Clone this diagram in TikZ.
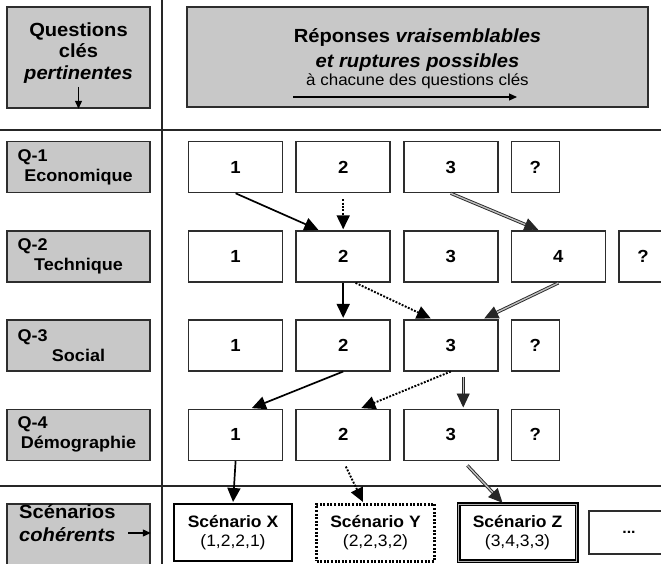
\documentclass[tikz,border=0pt]{standalone}
\usepackage{fontspec}
\setmainfont{Liberation Sans}[FakeStretch=1.06]
\usetikzlibrary{arrows.meta, positioning, calc}
\definecolor{headgray}{RGB}{200, 200, 200}
\definecolor{boxline}{RGB}{45, 45, 45}

\begin{document}
\begin{tikzpicture}[
    x=1pt, y=-1pt,
    node distance=12pt,
    sepline/.style={line width=1.1pt, black!85},
    headbox/.style={draw=boxline, fill=headgray, line width=1.6pt},
    qbox/.style={headbox, minimum width=143pt, minimum height=51pt, text width=122pt, align=center, font=\bfseries\fontsize{17}{20}\selectfont},
    ans/.style={draw=boxline, fill=white, line width=1.6pt, minimum width=94pt, minimum height=51pt, font=\bfseries\fontsize{17.5}{20}\selectfont},
    unk/.style={ans, minimum width=48pt},
    scen/.style={draw=black, fill=white, line width=2.4pt, minimum width=118pt, minimum height=57pt, align=center, font=\fontsize{16.5}{19}\selectfont},
    scendotted/.style={line width=2.6pt, dash pattern=on 2pt off 1.6pt},
    scendouble/.style={line width=1.4pt, double=gray!60, double distance=1.2pt},
    solidarrow/.style={-{Triangle[length=14pt,width=13pt]}, line width=1.7pt, shorten >=1pt},
    dotarrow/.style={-{Triangle[length=14pt,width=13pt]}, line width=1.9pt, dash pattern=on 1.9pt off 1.5pt, shorten >=1pt},
    dblarrow/.style={-{Triangle[length=14pt,width=13pt]}, draw=black!85, double=gray!50, double distance=1.4pt, line width=0.9pt, shorten >=1pt},
    smallarrow/.style={-{Triangle[length=8pt,width=7pt]}, line width=1.1pt}
]
    \path[fill=white, use as bounding box] (0,0) rectangle (661,564);

    % Header
    \node[headbox, minimum width=143pt, minimum height=101pt] (qhead) at (78.5,57.5) {};
    \node[align=center, font=\bfseries\fontsize{19}{21.5}\selectfont] (qheadtxt) at (78.5,53) {Questions\\clés\\\textit{pertinentes}};
    \coordinate (qarrow) at (78.5,87);
    \draw[smallarrow] (qarrow) -- (qhead.south);

    \node[headbox, minimum width=461pt, minimum height=100pt] (rhead) at (417.5,57) {};
    \node[align=center, font=\bfseries\fontsize{19}{25}\selectfont] (rheadtxt) at (417.5,59) {Réponses \textit{vraisemblables}\\\textit{et ruptures possibles}\\[-7pt]{\mdseries\fontsize{16}{18}\selectfont à chacune des questions clés}};
    \coordinate (rarrowa) at (293,97);
    \coordinate (rarrowb) at (517,97);
    \draw[smallarrow] (rarrowa) -- (rarrowb);

    % Separators
    \draw[sepline] (162,0) -- (162,564);
    \draw[sepline] (0,130) -- (661,130);
    \draw[sepline] (0,486) -- (661,486);

    % Key questions
    \node[qbox] (q1) at (78.5,167) {Q-1\hfill\mbox{}\\Economique};
    \node[qbox, below=37pt of q1] (q2) {Q-2\hfill\mbox{}\\Technique};
    \node[qbox, below=36pt of q2] (q3) {Q-3\hfill\mbox{}\\Social};
    \node[qbox, below=37pt of q3] (q4) {Q-4\hfill\mbox{}\\Démographie};

    % Answers
    \node[ans, right=37pt of q1] (a11) {1};
    \node[ans, right=of a11] (a12) {2};
    \node[ans, right=of a12] (a13) {3};
    \node[unk, right=of a13] (a1u) {?};

    \node[ans, right=37pt of q2] (a21) {1};
    \node[ans, right=of a21] (a22) {2};
    \node[ans, right=of a22] (a23) {3};
    \node[ans, right=of a23] (a24) {4};
    \node[unk, right=of a24] (a2u) {?};

    \node[ans, right=37pt of q3] (a31) {1};
    \node[ans, right=of a31] (a32) {2};
    \node[ans, right=of a32] (a33) {3};
    \node[unk, right=of a33] (a3u) {?};

    \node[ans, right=37pt of q4] (a41) {1};
    \node[ans, right=of a41] (a42) {2};
    \node[ans, right=of a42] (a43) {3};
    \node[unk, right=of a43] (a4u) {?};

    % Coherent scenarios
    \node[headbox, minimum width=143pt, minimum height=72pt, anchor=north] (scbox) at (78.5,503) {};
    \node[anchor=north west, align=left, inner sep=0pt, font=\bfseries\fontsize{19}{23}\selectfont] (sctxt) at (19,504) {Scénarios\\\textit{cohérents}};
    \coordinate (scarrow) at (128,533);
    \draw[smallarrow] (scarrow) -- (scarrow -| scbox.east);

    \node[scen, anchor=north] (sx) at (233,503) {\textbf{Scénario X}\\(1,2,2,1)};
    \node[scen, scendotted, right=22pt of sx] (sy) {\textbf{Scénario Y}\\(2,2,3,2)};
    \node[scen, scendouble, right=22pt of sy] (sz) {\textbf{Scénario Z}\\(3,4,3,3)};
    \node[draw=boxline, line width=1.6pt, minimum width=80pt, minimum height=43pt, font=\bfseries\fontsize{15}{18}\selectfont, right=11pt of sz] (sdots) {...};

    % Paths between answers
    \draw[solidarrow] (a11.south) -- ($(a22.north west)!0.25!(a22.north east)$);
    \draw[dotarrow, shorten <=6pt] (a12.south) -- (a22.north);
    \draw[dblarrow] (a13.south) -- ($(a24.north west)!0.3!(a24.north east)$);

    \draw[solidarrow] (a22.south) -- (a32.north);
    \draw[dotarrow] ($(a22.south west)!0.63!(a22.south east)$) -- ($(a33.north west)!0.3!(a33.north east)$);
    \draw[dblarrow] (a24.south) -- ($(a33.north west)!0.84!(a33.north east)$);

    \draw[solidarrow] (a32.south) -- ($(a41.north west)!0.66!(a41.north east)$);
    \draw[dotarrow] (a33.south) -- ($(a42.north west)!0.68!(a42.north east)$);
    \draw[dblarrow, shorten <=5pt] ($(a33.south west)!0.63!(a33.south east)$) -- ($(a43.north west)!0.63!(a43.north east)$);

    \draw[solidarrow] (a41.south) -- (sx.north);
    \draw[dotarrow, shorten <=6pt] (a42.south) -- ($(sy.north west)!0.4!(sy.north east)$);
    \draw[dblarrow, shorten <=6pt] ($(a43.south west)!0.63!(a43.south east)$) -- ($(sz.north west)!0.38!(sz.north east)$);
\end{tikzpicture}
\end{document}
